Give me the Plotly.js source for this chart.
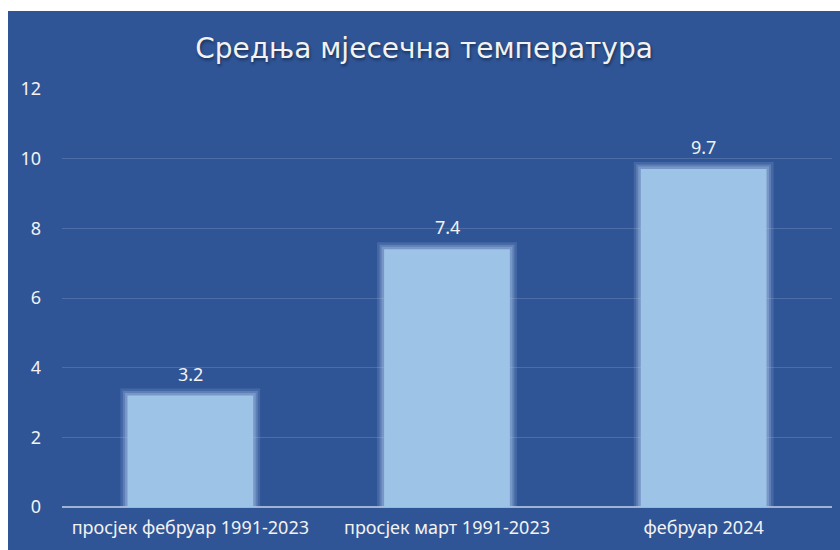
<!DOCTYPE html>
<html>
<head>
<meta charset="utf-8">
<script src="https://cdn.plot.ly/plotly-3.0.1.min.js"></script>
<style>
html,body{margin:0;padding:0;background:#ffffff;width:840px;height:550px;overflow:hidden;}
#chart{position:absolute;left:8px;top:11px;width:832px;height:539px;}
</style>
</head>
<body>
<div id="chart"></div>
<script>
var categories = ["просјек фебруар 1991-2023", "просјек март 1991-2023", "фебруар 2024"];
var values = [3.2, 7.4, 9.7];
var valueLabels = ["3.2", "7.4", "9.7"];
var yTicks = [0, 2, 4, 6, 8, 10, 12];
var titleText = "Средња мјесечна температура";

var FONT = "Noto Sans, Open Sans, sans-serif";
var BARW = 0.49;
function glow(w, a) {
  return {
    type: "bar", x: categories, y: values, width: BARW,
    marker: {color: "rgba(0,0,0,0)", line: {color: "rgba(170,195,232," + a + ")", width: w}},
    hoverinfo: "none"
  };
}
var main = {
  type: "bar", x: categories, y: values, width: BARW,
  marker: {color: "#9DC3E6", line: {width: 0}},
  hoverinfo: "none"
};
var annotations = categories.map(function (c, i) {
  return {
    x: c, y: values[i], xref: "x", yref: "y",
    text: valueLabels[i], showarrow: false,
    yanchor: "bottom", yshift: 8,
    font: {family: FONT, size: 18, color: "#F2F2F2"}
  };
});
var layout = {
  width: 832, height: 539,
  paper_bgcolor: "#2F5597",
  plot_bgcolor: "#2F5597",
  margin: {l: 54, r: 8, t: 78, b: 43},
  barmode: "overlay",
  showlegend: false,
  annotations: annotations,
  title: {
    text: titleText,
    x: 0.5, xanchor: "center",
    y: 1 - 37/539, yanchor: "middle",
    font: {family: "DejaVu Sans, sans-serif", size: 28, color: "#F2F2F2", shadow: "1px 2px 3px rgba(0,0,0,0.45)"}
  },
  xaxis: {
    type: "category",
    showgrid: false, showline: false, zeroline: false,
    ticks: "",
    tickfont: {family: FONT, size: 18, color: "#F2F2F2"},
    ticklabelstandoff: 8
  },
  yaxis: {
    range: [0, 12],
    tickvals: yTicks,
    ticktext: yTicks.map(String),
    showgrid: true,
    gridcolor: "rgba(255,255,255,0.14)",
    gridwidth: 1,
    zeroline: true,
    zerolinecolor: "rgba(200,210,230,0.75)",
    zerolinewidth: 2,
    ticks: "",
    tickfont: {family: FONT, size: 18, color: "#F2F2F2"},
    ticklabelstandoff: 20
  }
};
Plotly.newPlot("chart", [glow(14, 0.18), glow(9, 0.25), glow(5, 0.35), main], layout, {displayModeBar: false, staticPlot: true});
</script>
</body>
</html>
